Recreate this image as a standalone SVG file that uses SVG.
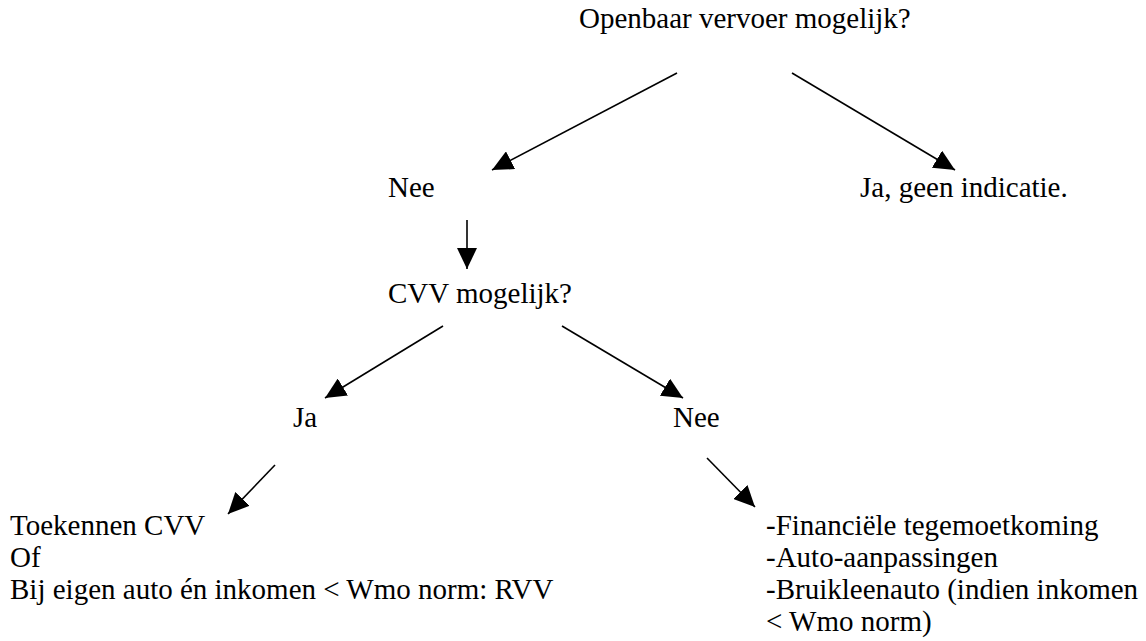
<svg xmlns="http://www.w3.org/2000/svg" width="1146" height="641" viewBox="0 0 1146 641">
<defs>
<style>
text{font-family:'Liberation Serif','Times New Roman','DejaVu Serif',serif;font-size:29px;fill:#000}
.c line{stroke:#000;stroke-width:1.6;fill:none}
</style>
<marker id="ah" viewBox="0 0 21 20" refX="21" refY="10" markerWidth="21" markerHeight="20" markerUnits="userSpaceOnUse" orient="auto">
<path d="M0,0 L21,10 L0,20 Z" fill="#000"/>
</marker>
</defs>
<rect width="1146" height="641" fill="#fff"/>
<g id="n-ov"><text x="579" y="28">Openbaar vervoer mogelijk?</text></g>
<g id="n-nee1"><text x="388" y="197">Nee</text></g>
<g id="n-ja1"><text x="860" y="197">Ja, geen indicatie.</text></g>
<g id="n-cvv"><text x="388" y="303">CVV mogelijk?</text></g>
<g id="n-ja2"><text x="293" y="427">Ja</text></g>
<g id="n-nee2"><text x="673" y="427">Nee</text></g>
<g id="n-toek">
<text x="10" y="535">Toekennen CVV</text>
<text x="10" y="567">Of</text>
<text x="10" y="599">Bij eigen auto én inkomen &lt; Wmo norm: RVV</text>
</g>
<g id="n-list">
<text x="766" y="535">-Financiële tegemoetkoming</text>
<text x="766" y="567">-Auto-aanpassingen</text>
<text x="766" y="599">-Bruikleenauto (indien inkomen</text>
<text x="766" y="631">&lt; Wmo norm)</text>
</g>
<g id="connectors" class="c">
<line x1="677" y1="73" x2="492" y2="170" marker-end="url(#ah)"/>
<line x1="792" y1="73" x2="955" y2="170" marker-end="url(#ah)"/>
<line x1="467" y1="220" x2="467" y2="269" marker-end="url(#ah)"/>
<line x1="443" y1="326" x2="325" y2="398" marker-end="url(#ah)"/>
<line x1="562" y1="326" x2="683" y2="398" marker-end="url(#ah)"/>
<line x1="275" y1="465" x2="228" y2="514" marker-end="url(#ah)"/>
<line x1="707" y1="458" x2="755" y2="507" marker-end="url(#ah)"/>
</g>
</svg>
